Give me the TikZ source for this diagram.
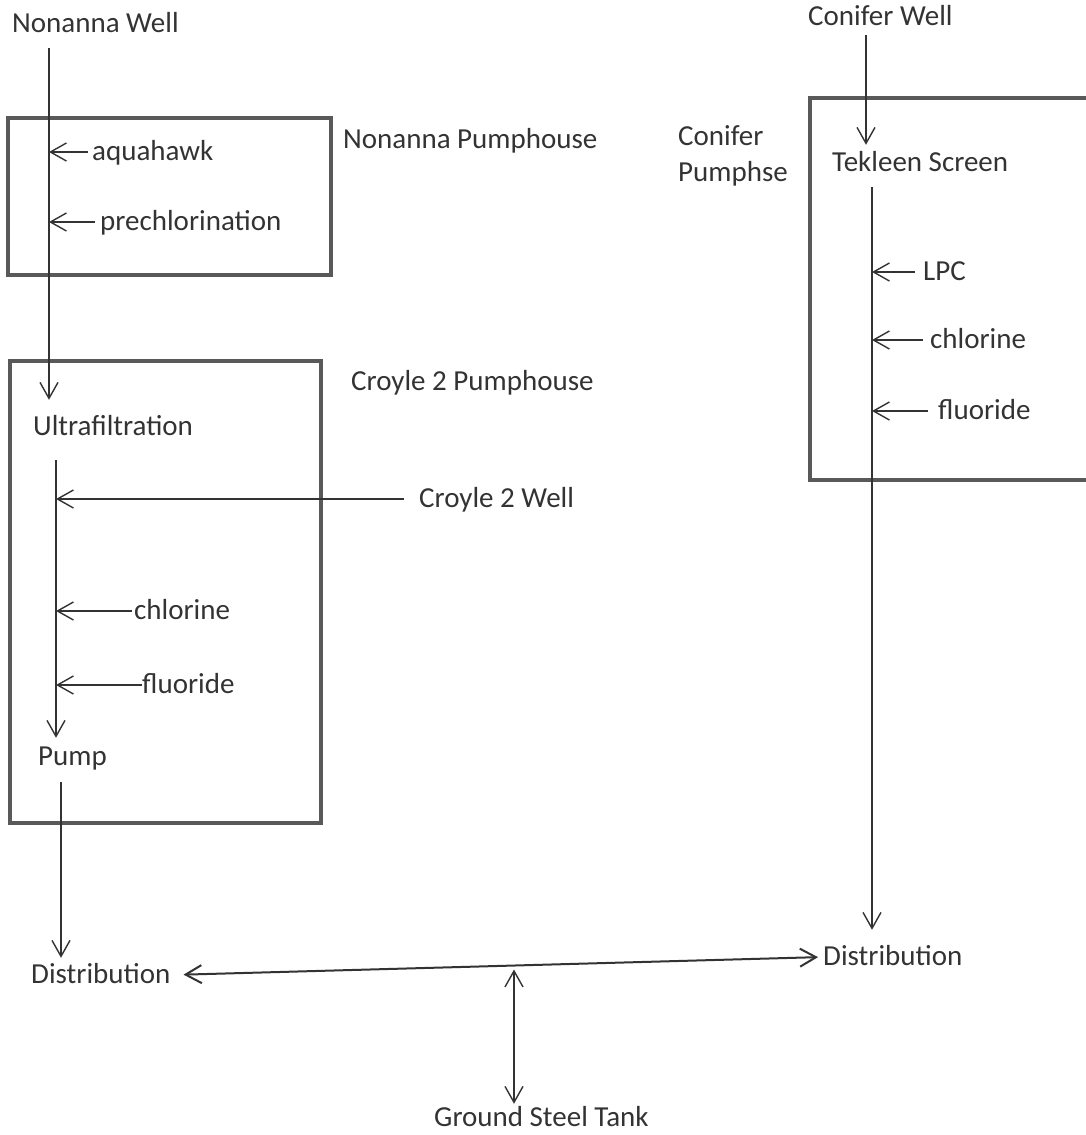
\documentclass[tikz,border=0pt]{standalone}
\usepackage{fontspec}
\setmainfont{Carlito}
\usetikzlibrary{arrows.meta}
\begin{document}
\begin{tikzpicture}[x=1pt,y=-1pt,
  lbl/.style={inner sep=0pt, anchor=west, font=\fontsize{29}{34}\selectfont, text=black!80, text height=22pt, text depth=6pt},
  lbltwo/.style={inner sep=0pt, anchor=north west, align=left, font=\fontsize{29}{36}\selectfont, text=black!80},
  tip/.tip={Straight Barb[length=16pt,width=18pt]},
  flow/.style={line width=1.4pt, draw=black!80, -tip},
  twoway/.style={line width=1.4pt, draw=black!80, tip-tip},
  house/.style={line width=3.5pt, draw=black!65}]
\useasboundingbox (0,0) rectangle (1086,1135);
\clip (0,0) rectangle (1086,1135);

% houses
\draw[house] (8,118) rectangle (331,275);
\draw[house] (10,361) rectangle (321,823);
\draw[house] (810,98) rectangle (1110,480);

% line x positions
\coordinate (nx) at (49,0);
\coordinate (cx) at (56,0);
\coordinate (px) at (61,0);
\coordinate (kx) at (866,0);
\coordinate (rx) at (872,0);
\coordinate (tx) at (514,0);

% labels
\node[lbl] (nwell) at (12,24) {Nonanna Well};
\node[lbl] (npump) at (343,140) {Nonanna Pumphouse};
\node[lbl] (aqua) at (92,152) {aquahawk};
\node[lbl] (prechl) at (100,222) {prechlorination};
\node[lbl] (cpump) at (351,382) {Croyle 2 Pumphouse};
\node[lbl] (ultra) at (33,427) {Ultrafiltration};
\node[lbl] (cwell) at (419,499) {Croyle 2 Well};
\node[lbl] (chlA) at (134,611) {chlorine};
\node[lbl] (fluA) at (142,685) {fluoride};
\node[lbl] (pump) at (38,757) {Pump};
\node[lbl] (distA) at (31,975) {Distribution};
\node[lbl] (distB) at (823,957) {Distribution};
\node[lbl] (tank) at (434,1118) {Ground Steel Tank};
\node[lbl] (conwell) at (808,17) {Conifer Well};
\node[lbltwo] (conpump) at (678,125) {Conifer\\Pumphse};
\node[lbl] (tek) at (832,163) {Tekleen Screen};
\node[lbl] (lpc) at (923,272) {LPC};
\node[lbl] (chlB) at (930,340) {chlorine};
\node[lbl] (fluB) at (938,411) {fluoride};

% Nonanna / Croyle train
\draw[flow, shorten <=10pt, shorten >=13pt] (nwell.south -| nx) -- (ultra.north -| nx);
\draw[flow, shorten <=4pt] (aqua.west) -- (aqua.west -| nx);
\draw[flow, shorten <=5pt] (prechl.west) -- (prechl.west -| nx);
\draw[flow, shorten <=19pt, shorten >=5pt] (ultra.south -| cx) -- (pump.north -| cx);
\draw[flow, shorten <=15pt] (cwell.west) -- (cwell.west -| cx);
\draw[flow, shorten <=2pt] (chlA.west) -- (chlA.west -| cx);
\draw[flow, shorten <=0pt] (fluA.west) -- (fluA.west -| cx);
\draw[flow, shorten <=11pt, shorten >=3pt] (pump.south -| px) -- (distA.north -| px);

% Conifer train
\draw[flow, shorten <=4pt, shorten >=4pt] (conwell.south -| kx) -- (tek.north -| kx);
\draw[flow, shorten <=10pt, shorten >=13pt] (tek.south -| rx) -- (distB.north -| rx);
\draw[flow, shorten <=8pt] (lpc.west) -- (lpc.west -| rx);
\draw[flow, shorten <=7pt] (chlB.west) -- (chlB.west -| rx);
\draw[flow, shorten <=10pt] (fluB.west) -- (fluB.west -| rx);

% distribution
\draw[twoway, line width=2pt, shorten <=13pt, shorten >=5pt] (distA.east) -- (distB.west) coordinate[pos=0.527] (mid);
\draw[twoway] (tank.north -| tx) -- ([yshift=-4pt]mid -| tx);
\end{tikzpicture}
\end{document}
